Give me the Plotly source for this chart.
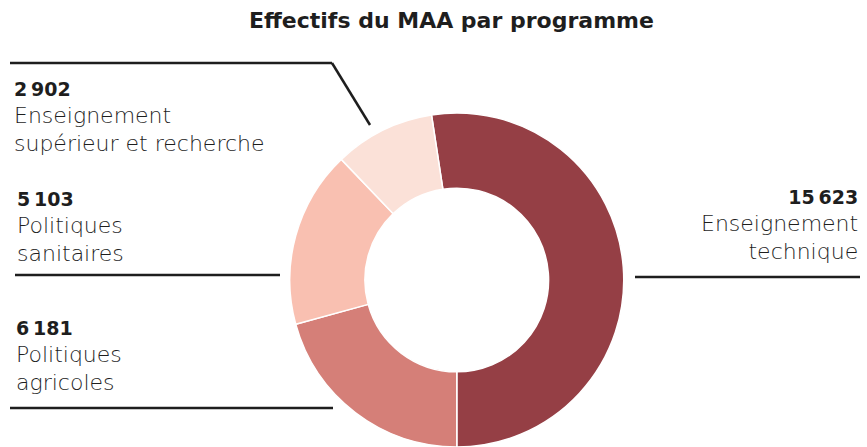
import plotly.graph_objects as go

W, H = 867, 447

# Data
categories = ["Enseignement technique", "Politiques agricoles", "Politiques sanitaires",
              "Enseignement supérieur et recherche"]
values = [15623, 6181, 5103, 2902]
label_lines = [["Enseignement", "technique"], ["Politiques", "agricoles"],
               ["Politiques", "sanitaires"], ["Enseignement", "supérieur et recherche"]]
colors = ["#953f45", "#d57f78", "#f9c0b1", "#fbe1d8"]
title_text = "Effectifs du MAA par programme"

FONT = "DejaVu Sans"
INK = "#1e1e1e"


def px_x(x):
    return x / W


def px_y(y):
    return 1 - y / H


def fmt(v):
    s = f"{v:,}"
    return s.replace(",", "\u202f")


fig = go.Figure(go.Pie(
    labels=categories,
    values=values,
    hole=0.55,
    sort=False,
    direction="clockwise",
    rotation=-8.7,
    marker=dict(colors=colors, line=dict(color="white", width=1.5)),
    textinfo="none",
    hoverinfo="label+value",
    showlegend=False,
    domain=dict(x=[px_x(289.5), px_x(624)], y=[px_y(447), px_y(113)]),
))

# label placement (left x or right x, top y in pixels, alignment)
placements = [
    (860, 184, "right"),
    (14, 315, "left"),
    (15, 186, "left"),
    (12, 76, "left"),
]

annotations = []
for v, lines, (x, y, al) in zip(values, label_lines, placements):
    txt = (f"<span style='font-size:19px;font-weight:bold'>{fmt(v)}</span><br>"
           + "<br>".join(f"<span style='font-size:22px'>{ln}</span>" for ln in lines))
    annotations.append(dict(
        x=px_x(x), y=px_y(y), xref="paper", yref="paper",
        xanchor=al, yanchor="top", align=al, showarrow=False,
        text=txt, font=dict(family=FONT, size=21, color=INK, weight=200),
    ))

annotations.append(dict(
    x=px_x(451), y=px_y(20), xref="paper", yref="paper",
    xanchor="center", yanchor="middle", showarrow=False,
    text=f"<b>{title_text}</b>", font=dict(family=FONT, size=22, color=INK),
))

line_style = dict(color=INK, width=2.5)
segments = [
    (10, 63, 332, 63),
    (332, 63, 370, 125),
    (15, 275, 280, 275),
    (10, 408, 333, 408),
    (635, 277, 860, 277),
]
shapes = [dict(type="line", xref="paper", yref="paper",
               x0=px_x(a), y0=px_y(b), x1=px_x(c), y1=px_y(d), line=line_style)
          for a, b, c, d in segments]

fig.update_layout(
    width=W, height=H, margin=dict(l=0, r=0, t=0, b=0),
    paper_bgcolor="white", plot_bgcolor="white",
    annotations=annotations, shapes=shapes,
)

fig.write_html("out.html", config={"displayModeBar": False},
               post_script="document.body.style.margin='0';document.body.style.padding='0';")
